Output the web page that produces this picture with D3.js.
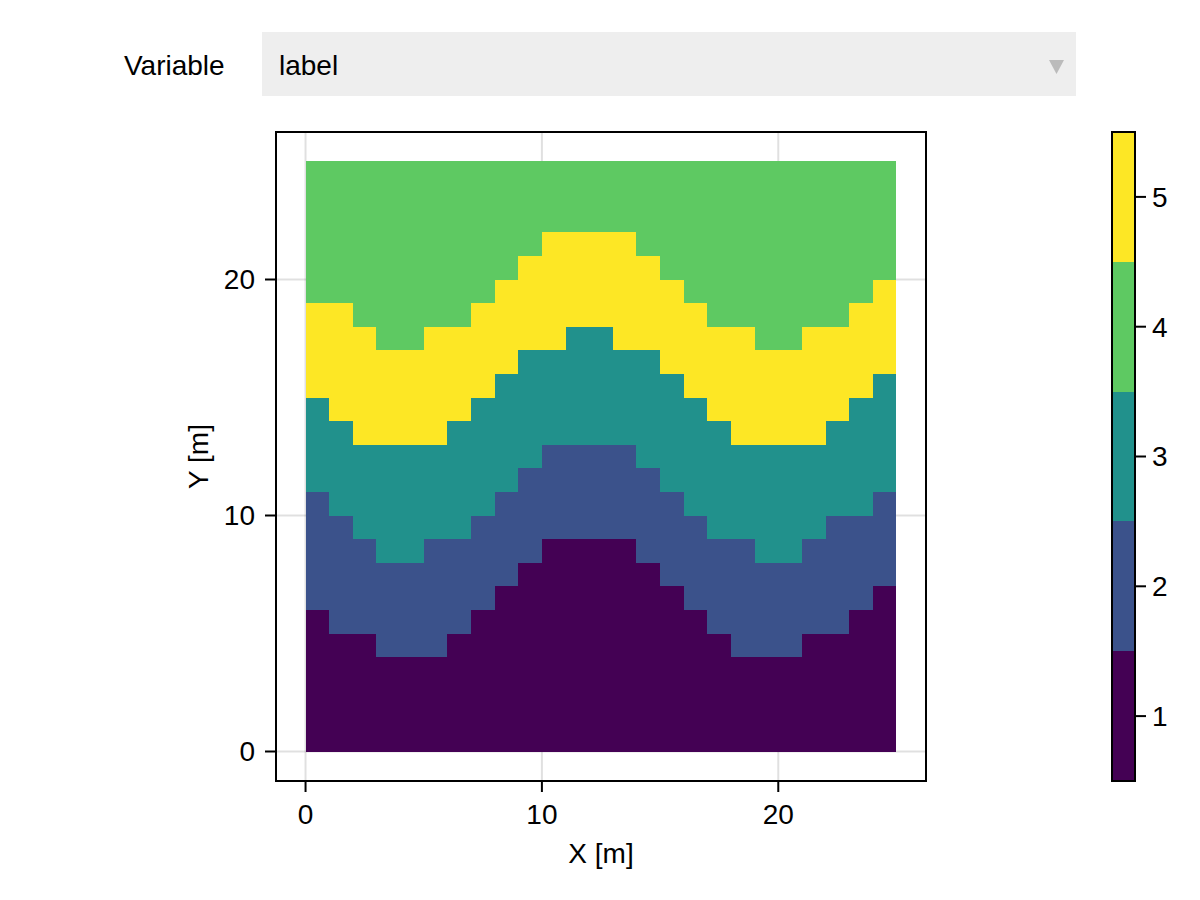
<!DOCTYPE html>
<html>
<head>
<meta charset="utf-8">
<script src="https://cdn.jsdelivr.net/npm/d3@7"></script>
<style>
  html, body { margin: 0; padding: 0; background: #ffffff; }
  svg { display: block; font-family: "Liberation Sans", Arial, Helvetica, sans-serif; }
</style>
</head>
<body>
<svg id="chart" width="1200" height="900"></svg>
<script>
// ---- Data ----
// Grid: 25 columns (x = 0..24) x 25 rows (y = 0..24), 1 m cells.
// For each column, the row index where each layer ends (exclusive top).
const nCols = 25;
const nRows = 25;
const top1 = [6,5,5,4,4,4,5,6,7,8,9,9,9,9,8,7,6,5,4,4,4,5,5,6,7];          // label 1 (bottom)
const top2 = [11,10,9,8,8,9,9,10,11,12,13,13,13,13,12,11,10,9,9,8,8,9,10,10,11]; // label 2
const top3 = [15,14,13,13,13,13,14,15,16,17,17,18,18,17,17,16,15,14,13,13,13,13,14,15,16]; // label 3
const top5 = [19,19,18,17,17,18,18,19,20,21,22,22,22,22,21,20,19,18,18,17,17,18,18,19,20]; // label 5
// above top5: label 4
const layerOrder = [1, 2, 3, 5];
const topLabel = 4;
const labelValues = [1, 2, 3, 4, 5];
const xTicks = [0, 10, 20];
const yTicks = [0, 10, 20];
const xDomain = [-1.25, 26.25];
const yDomain = [-1.25, 26.25];
const menuLabel = "Variable";
const menuValue = "label";
const xTitle = "X [m]";
const yTitle = "Y [m]";

// ---- Build cells ----
const tops = [top1, top2, top3, top5];
const cells = [];
for (let i = 0; i < nCols; i++) {
  for (let j = 0; j < nRows; j++) {
    let v = topLabel;
    for (let k = 0; k < tops.length; k++) {
      if (j < tops[k][i]) { v = layerOrder[k]; break; }
    }
    cells.push({ x: i, y: j, v: v });
  }
}

// ---- Layout ----
const svg = d3.select("#chart");
const FS = 28;
const plot = { left: 276, right: 926, top: 132, bottom: 781 };
const cb = { left: 1112, right: 1135, top: 132, bottom: 781 };

const x = d3.scaleLinear().domain(xDomain).range([plot.left, plot.right]);
const y = d3.scaleLinear().domain(yDomain).range([plot.bottom, plot.top]);
const color = d3.scaleSequential(d3.interpolateViridis).domain([1, 5]);

// ---- Menu ----
svg.append("text")
  .attr("x", 124).attr("y", 75)
  .attr("font-size", FS).attr("fill", "#000")
  .text(menuLabel);
svg.append("rect")
  .attr("x", 262).attr("y", 32).attr("width", 814).attr("height", 64)
  .attr("fill", "#eeeeee");
svg.append("text")
  .attr("x", 279).attr("y", 75)
  .attr("font-size", FS).attr("fill", "#000")
  .text(menuValue);
svg.append("path")
  .attr("d", "M1049,60 L1064,60 L1056.5,74 Z")
  .attr("fill", "#bbbbbb");

// ---- Grid ----
const g = svg.append("g");
g.selectAll("line.gx").data(xTicks).enter().append("line")
  .attr("x1", d => x(d)).attr("x2", d => x(d))
  .attr("y1", plot.top).attr("y2", plot.bottom)
  .attr("stroke", "rgba(0,0,0,0.12)").attr("stroke-width", 2);
g.selectAll("line.gy").data(yTicks).enter().append("line")
  .attr("y1", d => y(d)).attr("y2", d => y(d))
  .attr("x1", plot.left).attr("x2", plot.right)
  .attr("stroke", "rgba(0,0,0,0.12)").attr("stroke-width", 2);

// ---- Heatmap ----
g.selectAll("rect.cell").data(cells).enter().append("rect")
  .attr("x", d => Math.round(x(d.x)))
  .attr("y", d => Math.round(y(d.y + 1)))
  .attr("width", d => Math.round(x(d.x + 1)) - Math.round(x(d.x)))
  .attr("height", d => Math.round(y(d.y)) - Math.round(y(d.y + 1)))
  .attr("fill", d => color(d.v))
  .attr("shape-rendering", "crispEdges");

// ---- Frame ----
svg.append("rect")
  .attr("x", plot.left).attr("y", plot.top)
  .attr("width", plot.right - plot.left).attr("height", plot.bottom - plot.top)
  .attr("fill", "none").attr("stroke", "#000").attr("stroke-width", 2);

// ---- Ticks ----
svg.selectAll("line.tx").data(xTicks).enter().append("line")
  .attr("x1", d => x(d)).attr("x2", d => x(d))
  .attr("y1", plot.bottom + 1).attr("y2", plot.bottom + 11)
  .attr("stroke", "#000").attr("stroke-width", 2);
svg.selectAll("text.tx").data(xTicks).enter().append("text")
  .attr("x", d => x(d)).attr("y", 824)
  .attr("text-anchor", "middle").attr("font-size", FS)
  .text(d => d);
svg.selectAll("line.ty").data(yTicks).enter().append("line")
  .attr("y1", d => y(d)).attr("y2", d => y(d))
  .attr("x1", plot.left - 11).attr("x2", plot.left - 1)
  .attr("stroke", "#000").attr("stroke-width", 2);
svg.selectAll("text.ty").data(yTicks).enter().append("text")
  .attr("x", 255).attr("y", d => y(d))
  .attr("dy", "0.35em")
  .attr("text-anchor", "end").attr("font-size", FS)
  .text(d => d);

// ---- Axis titles ----
svg.append("text")
  .attr("x", (plot.left + plot.right) / 2).attr("y", 863)
  .attr("text-anchor", "middle").attr("font-size", FS)
  .text(xTitle);
svg.append("text")
  .attr("transform", `translate(208,${(plot.top + plot.bottom) / 2}) rotate(-90)`)
  .attr("text-anchor", "middle").attr("font-size", FS)
  .text(yTitle);

// ---- Colorbar ----
const cy = d3.scaleLinear().domain([0.5, 5.5]).range([cb.bottom, cb.top]);
svg.selectAll("rect.band").data(labelValues).enter().append("rect")
  .attr("x", cb.left)
  .attr("y", d => Math.round(cy(d + 0.5)))
  .attr("width", cb.right - cb.left)
  .attr("height", d => Math.round(cy(d - 0.5)) - Math.round(cy(d + 0.5)))
  .attr("fill", d => color(d))
  .attr("shape-rendering", "crispEdges");
svg.append("rect")
  .attr("x", cb.left).attr("y", cb.top)
  .attr("width", cb.right - cb.left).attr("height", cb.bottom - cb.top)
  .attr("fill", "none").attr("stroke", "#000").attr("stroke-width", 2);
svg.selectAll("line.cbt").data(labelValues).enter().append("line")
  .attr("x1", cb.right + 1).attr("x2", cb.right + 11)
  .attr("y1", d => cy(d)).attr("y2", d => cy(d))
  .attr("stroke", "#000").attr("stroke-width", 2);
svg.selectAll("text.cbt").data(labelValues).enter().append("text")
  .attr("x", 1152).attr("y", d => cy(d))
  .attr("dy", "0.35em").attr("font-size", FS)
  .text(d => d);
</script>
</body>
</html>
